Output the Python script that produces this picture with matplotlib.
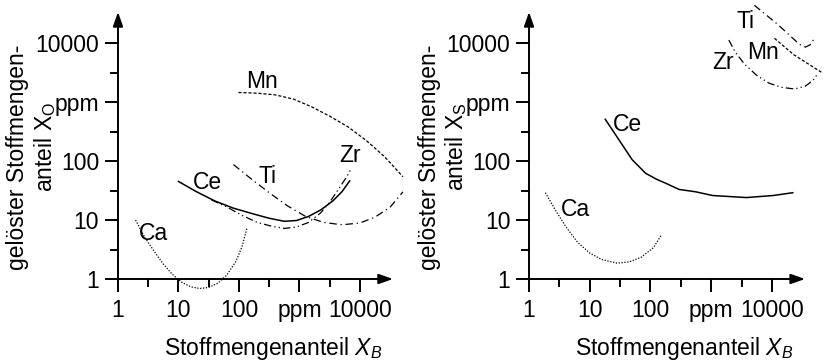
import matplotlib
matplotlib.use("Agg")
import matplotlib.pyplot as plt

plt.rcParams['font.family'] = ['Liberation Sans', 'DejaVu Sans']
plt.rcParams['mathtext.fontset'] = 'custom'
plt.rcParams['mathtext.rm'] = 'Liberation Sans'
plt.rcParams['mathtext.it'] = 'Liberation Sans:italic'

# Tick positions / labels (both axes, both panels)
tick_vals = [1, 10, 100, 1000, 10000]
tick_labels = ['1', '10', '100', 'ppm', '10000']
minor_vals = [3.16, 31.6, 316, 3160]

# --- left panel: dissolved oxygen X_O vs X_B ---
o_ce_x = [10, 20, 40, 79, 158, 316, 562, 891, 1410, 2240, 3550, 5010, 6760]
o_ce_y = [45, 30, 21, 16, 13, 10.7, 9.5, 9.8, 11.5, 14.8, 21, 30, 46]
o_zr_x = [35, 63, 112, 200, 355, 562, 891, 1410, 2240, 3160, 4470, 6030, 7240]
o_zr_y = [22, 16.6, 12, 9.1, 7.8, 7.2, 7.6, 9.1, 13.2, 20, 34, 54, 76]
o_ti_x = [81, 158, 316, 631, 1260, 2510, 5010, 10000, 17800, 31600, 51300]
o_ti_y = [87, 50, 29, 17.4, 11.5, 9.1, 8.3, 8.9, 11.2, 16.6, 30]
o_mn_x = [98, 200, 398, 794, 1580, 3160, 6310, 12600, 25100, 51300]
o_mn_y = [1450, 1410, 1320, 1120, 830, 575, 380, 224, 120, 54]
o_ca_x = [1.95, 2.8, 4.0, 5.6, 7.9, 11.2, 15.8, 22.4, 31.6, 44.7, 63, 89, 112, 135]
o_ca_y = [10, 5.0, 2.9, 1.8, 1.2, 0.89, 0.74, 0.69, 0.72, 0.85, 1.17, 2.0, 3.5, 7.2]

# --- right panel: dissolved sulfur X_S vs X_B ---
s_ce_x = [18, 50, 83, 126, 178, 295, 560, 1050, 3800, 10500, 22000]
s_ce_y = [510, 105, 62, 49, 42, 33, 30, 26, 24, 26, 29]
s_ca_x = [1.86, 2.8, 4.0, 6.3, 10, 15.8, 28, 45, 71, 112, 148]
s_ca_y = [29, 14, 7.8, 4.2, 2.75, 2.14, 1.86, 1.95, 2.35, 3.4, 5.4]
s_ti_x = [5130, 7940, 12600, 20000, 28200, 35500, 42700, 50100]
s_ti_y = [43600, 30200, 20400, 13200, 9550, 8510, 9330, 12000]
s_mn_x = [11000, 23000, 65000]
s_mn_y = [12000, 6300, 3200]
s_zr_x = [1950, 2510, 3550, 5620, 8910, 14100, 23400, 35500, 47900, 57500]
s_zr_y = [11200, 6900, 4370, 2820, 2090, 1780, 1660, 1860, 2340, 3090]

FS = 16.5
styles = {
    'Ce': dict(ls='-', lw=1.1),
    'Mn': dict(ls=(0, (2.5, 1.5)), lw=0.9),
    'Ti': dict(ls=(0, (6, 3, 1, 3)), lw=0.9),
    'Zr': dict(ls=(0, (6, 2.5, 1, 2.5, 1, 2.5)), lw=0.9),
    'Ca': dict(ls=(0, (1, 1.3)), lw=0.9),
}


def setup_axes(ax):
    ax.set_xscale('log')
    ax.set_yscale('log')
    ax.set_xlim(1, 10 ** 4.545)
    ax.set_ylim(1, 10 ** 4.525)
    for s in ax.spines.values():
        s.set_visible(False)
    ax.set_xticks(tick_vals)
    ax.set_xticklabels(tick_labels)
    ax.set_yticks(tick_vals)
    ax.set_yticklabels(tick_labels)
    ax.set_xticks(minor_vals, minor=True)
    ax.set_yticks(minor_vals, minor=True)
    ax.xaxis.set_minor_formatter(plt.NullFormatter())
    ax.yaxis.set_minor_formatter(plt.NullFormatter())
    ax.tick_params(which='major', length=9.5, width=1.4, labelsize=FS, pad=4)
    ax.tick_params(which='minor', length=5.5, width=1.4)
    ax.tick_params(axis='x', which='major', pad=5)
    arrow = dict(arrowstyle='-|>,head_length=0.85,head_width=0.3',
                 color='black', lw=1.4, shrinkA=0, shrinkB=0)
    ax.annotate('', xy=(1, 0), xytext=(0, 0), xycoords='axes fraction',
                arrowprops=arrow, annotation_clip=False)
    ax.annotate('', xy=(0, 1), xytext=(0, 0), xycoords='axes fraction',
                arrowprops=arrow, annotation_clip=False)


def curve(ax, x, y, name):
    ax.plot(x, y, color='black', clip_on=False, **styles[name])


fig = plt.figure(figsize=(8.24, 3.63), dpi=100)
ax1 = fig.add_axes([0.1432, 0.2314, 0.3337, 0.7355])
ax2 = fig.add_axes([0.642, 0.2314, 0.335, 0.7355])
setup_axes(ax1)
setup_axes(ax2)

curve(ax1, o_mn_x, o_mn_y, 'Mn')
curve(ax1, o_ti_x, o_ti_y, 'Ti')
curve(ax1, o_zr_x, o_zr_y, 'Zr')
curve(ax1, o_ce_x, o_ce_y, 'Ce')
curve(ax1, o_ca_x, o_ca_y, 'Ca')
ax1.text(240, 2200, 'Mn', fontsize=FS, ha='center', va='center')
ax1.text(30, 44, 'Ce', fontsize=FS, ha='center', va='center')
ax1.text(300, 54, 'Ti', fontsize=FS, ha='center', va='center')
ax1.text(6800, 126, 'Zr', fontsize=FS, ha='center', va='center')
ax1.text(3.8, 6, 'Ca', fontsize=FS, ha='center', va='center')

curve(ax2, s_ce_x, s_ce_y, 'Ce')
curve(ax2, s_ca_x, s_ca_y, 'Ca')
curve(ax2, s_ti_x, s_ti_y, 'Ti')
curve(ax2, s_mn_x, s_mn_y, 'Mn')
curve(ax2, s_zr_x, s_zr_y, 'Zr')
ax2.text(3700, 23000, 'Ti', fontsize=FS, ha='center', va='center')
ax2.text(7100, 7000, 'Mn', fontsize=FS, ha='center', va='center')
ax2.text(1550, 4600, 'Zr', fontsize=FS, ha='center', va='center')
ax2.text(42, 410, 'Ce', fontsize=FS, ha='center', va='center')
ax2.text(5.8, 15, 'Ca', fontsize=FS, ha='center', va='center')

# axis titles
for x0, sub in [(0, 'O'), (411, 'S')]:
    fig.text((x0 + 18) / 824, 1 - 157 / 363, 'gelöster Stoffmengen-', rotation=90,
             fontsize=FS, ha='center', va='center')
    fig.text((x0 + 45) / 824, 1 - 147 / 363, r'anteil $\mathrm{X_%s}$' % sub, rotation=90,
             fontsize=FS, ha='center', va='center')
fig.text(273 / 824, 1 - 348 / 363, r'Stoffmengenanteil $X_B$', fontsize=FS,
         ha='center', va='center')
fig.text(684 / 824, 1 - 348 / 363, r'Stoffmengenanteil $X_B$', fontsize=FS,
         ha='center', va='center')

fig.savefig('out.png', dpi=100)
